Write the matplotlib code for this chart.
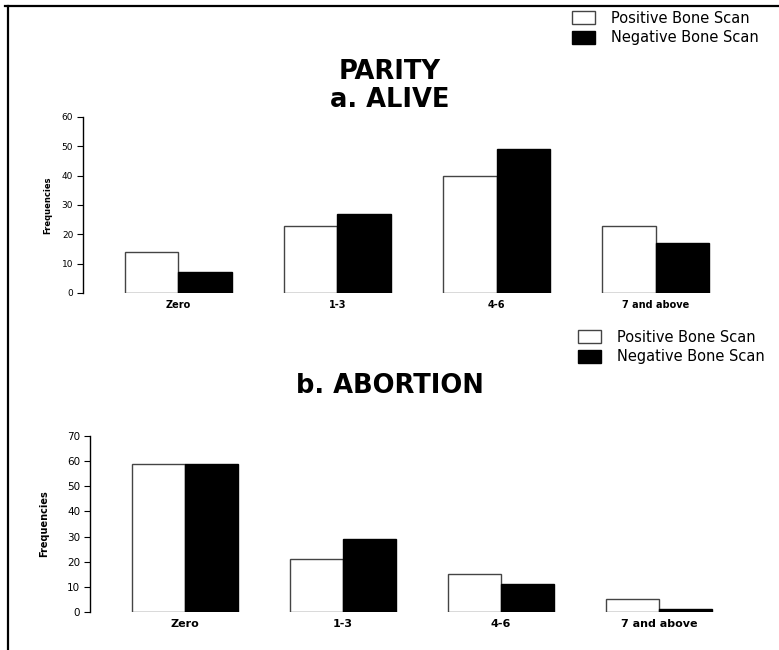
import matplotlib
matplotlib.use("Agg")
import matplotlib.pyplot as plt
from matplotlib.lines import Line2D
import numpy as np

plt.rcParams['font.family'] = ['DejaVu Sans']

categories = ["Zero", "1-3", "4-6", "7 and above"]
alive_pos = [14, 23, 40, 23]
alive_neg = [7, 27, 49, 17]
abort_pos = [59, 21, 15, 5]
abort_neg = [59, 29, 11, 1]
series_names = ["Positive Bone Scan", "Negative Bone Scan"]

fig = plt.figure(figsize=(7.79, 6.5), dpi=100)

# border lines (top and left only, as in the scan)
fig.add_artist(Line2D([5/779, 1], [1-6/650, 1-6/650], color="black", lw=1.6))
fig.add_artist(Line2D([8/779, 8/779], [0, 1-6/650], color="black", lw=1.6))

def draw(ax, pos, neg, ymax, step, fs, lpad):
    x = np.arange(len(categories))
    w = 0.335
    b1 = ax.bar(x - w/2, pos, w, color="white", edgecolor="#444444", linewidth=1)
    b2 = ax.bar(x + w/2, neg, w, color="black", edgecolor="black", linewidth=1)
    ax.set_xlim(-0.6, 3.6)
    ax.set_ylim(0, ymax)
    ax.set_yticks(np.arange(0, ymax + 1, step))
    ax.set_xticks(x)
    ax.set_xticklabels(categories, fontweight="bold", fontsize=fs + 0.5)
    ax.tick_params(axis="x", length=0, pad=5)
    ax.tick_params(axis="y", length=4, width=0.8, labelsize=fs, pad=3)
    for s in ["top", "right", "bottom"]:
        ax.spines[s].set_visible(False)
    ax.spines["left"].set_linewidth(1)
    ax.set_ylabel("Frequencies", fontweight="bold", fontsize=fs - 0.5, labelpad=lpad)
    return b1, b2

ax1 = fig.add_axes([83/779, 357/650, 668/779, 176/650])
h1 = draw(ax1, alive_pos, alive_neg, 60, 10, 6.5, 7)

ax2 = fig.add_axes([90/779, 38/650, 664/779, 176/650])
h2 = draw(ax2, abort_pos, abort_neg, 70, 10, 7.5, 13)

fig.text(0.5, 1-72/650, "PARITY", ha="center", va="center", fontsize=18.5, fontweight="bold")
fig.text(0.5, 1-100/650, "a. ALIVE", ha="center", va="center", fontsize=18.5, fontweight="bold")
fig.text(0.5, 1-386/650, "b. ABORTION", ha="center", va="center", fontsize=18.5, fontweight="bold")

for h, ax_, ay in [(h1, 566, 5), (h2, 572, 324)]:
    fig.legend(h, series_names, loc="upper left", bbox_to_anchor=(ax_/779, 1-ay/650),
               frameon=False, fontsize=10.5, handlelength=1.6, handleheight=1.0,
               labelspacing=0.3, handletextpad=1.1, borderaxespad=0)

fig.savefig("out.png", dpi=100)
